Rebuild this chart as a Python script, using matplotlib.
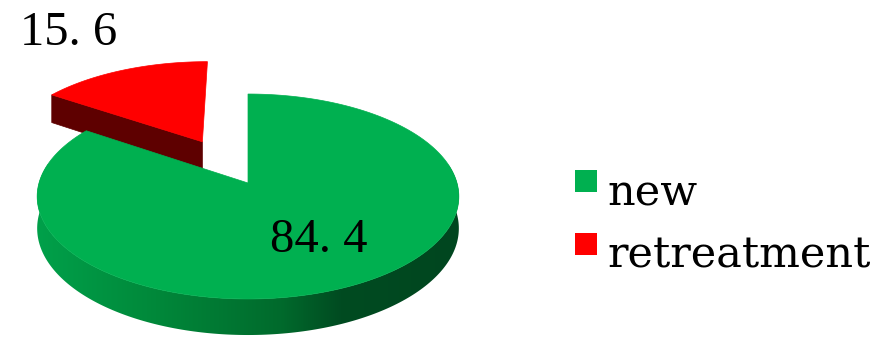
import numpy as np
import matplotlib.pyplot as plt
from matplotlib.patches import Polygon, Rectangle
from matplotlib.colors import LinearSegmentedColormap

# data
labels = ['new', 'retreatment']
values = [84.4, 15.6]
top_colors = ['#00B050', '#FF0000']
explode = [0.0, 0.49]

W, H = 886, 343
fig = plt.figure(figsize=(8.86, 3.43), dpi=100)
ax = fig.add_axes([0, 0, 1, 1])
ax.set_xlim(0, W)
ax.set_ylim(H, 0)
ax.axis('off')

# projected disc (pixels): centre of circle, radii, perspective, thickness
cx, cy = 248, 183
rx, ry = 209, 100.7
k = 0.1317
depth = 31.3

green_side = LinearSegmentedColormap.from_list('gside', [
    (0.0, '#00a04a'), (0.26, '#008a3b'), (0.58, '#006a2c'),
    (0.72, '#004b21'), (1.0, '#00461f')])
side_cmaps = [green_side, None]
radial_colors = ['#007a35', '#5e0000']


def proj(X, Z, low=False):
    s = 1.0 / (1 + k * Z)
    x = cx + rx * X * s
    y = cy - ry * Z * s
    if low:
        y = y + depth * s
    return x, y


def poly(pts, color, z):
    p = Polygon(pts, closed=True, facecolor=color, edgecolor=color,
                linewidth=0.5, zorder=z)
    ax.add_patch(p)
    return p


total = sum(values)
starts = []
acc = 0.0
for v in values:
    a0 = 90 - acc / total * 360
    acc += v
    a1 = 90 - acc / total * 360
    starts.append((a0, a1))

# draw back slice (exploded red) first, then the big one
order = [1, 0]
for zi, i in enumerate(order):
    a0, a1 = starts[i]
    mid = np.radians((a0 + a1) / 2)
    ex, ez = explode[i] * np.cos(mid), explode[i] * np.sin(mid)
    t = np.radians(np.linspace(a0, a1, 300))
    X = ex + np.cos(t)
    Z = ez + np.sin(t)
    base = zi * 10

    # outer wall: front part of the rim, filled with a shaded gradient
    if side_cmaps[i] is not None:
        front = np.sin(t) < 0.2
        Xf, Zf = X[front], Z[front]
        upper = [proj(a, b) for a, b in zip(Xf, Zf)]
        lower = [proj(a, b, True) for a, b in zip(Xf, Zf)]
        wall = Polygon(upper + lower[::-1], closed=True, facecolor='none',
                       edgecolor='none', zorder=base + 1)
        ax.add_patch(wall)
        grad = np.linspace(0, 1, 256).reshape(1, -1)
        im = ax.imshow(grad, cmap=side_cmaps[i], aspect='auto',
                       extent=(cx - rx - 2, cx + rx + 2, H, 0),
                       interpolation='bilinear', zorder=base + 1)
        im.set_clip_path(wall)

    # radial wall on the start edge (the one facing the viewer)
    pa = proj(ex, ez); pb = proj(X[0], Z[0])
    pc = proj(X[0], Z[0], True); pd = proj(ex, ez, True)
    poly([pa, pb, pc, pd], radial_colors[i], base + 2)

    # top face
    pts = [proj(ex, ez)] + [proj(a, b) for a, b in zip(X, Z)]
    poly(pts, top_colors[i], base + 3)

ax.set_xlim(0, W)
ax.set_ylim(H, 0)

# value labels
font_num = 'Liberation Serif'
ax.text(20, 45, f'{values[1]:.1f}'.replace('.', '. '), fontfamily=font_num,
        fontsize=35, ha='left', va='baseline', zorder=30)
ax.text(270, 252, f'{values[0]:.1f}'.replace('.', '. '), fontfamily=font_num,
        fontsize=35, ha='left', va='baseline', zorder=30)

# legend
leg_y = [170, 233]
for i, lab in enumerate(labels):
    ax.add_patch(Rectangle((575, leg_y[i]), 22, 22, facecolor=top_colors[i],
                           edgecolor='none', zorder=30))
    ax.text(607, leg_y[i] + 35, lab, fontfamily='DejaVu Serif', fontsize=31,
            ha='left', va='baseline', zorder=30)

fig.savefig('out.png', dpi=100)
